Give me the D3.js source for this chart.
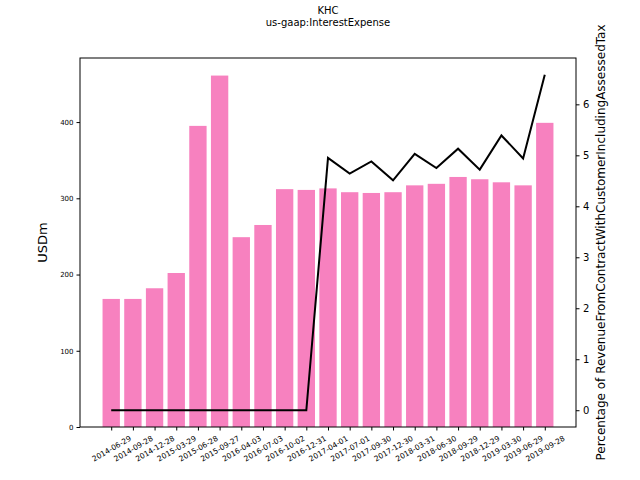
<!DOCTYPE html>
<html><head><meta charset="utf-8">
<script src="https://cdn.jsdelivr.net/npm/d3@7"></script>
<style>body{margin:0;background:#fff}svg{font-family:"DejaVu Sans",sans-serif}</style>
</head><body><svg id="c" width="640" height="480"></svg>
<script>
const categories = ["2014-06-29","2014-09-28","2014-12-28","2015-03-29","2015-06-28","2015-09-27","2016-04-03","2016-07-03","2016-10-02","2016-12-31","2017-04-01","2017-07-01","2017-09-30","2017-12-30","2018-03-31","2018-06-30","2018-09-29","2018-12-29","2019-03-30","2019-06-29","2019-09-28"];
const interestExpense = [168,168,182,202,395,461,249,265,312,311,313,308,307,308,317,319,328,325,321,317,399];
const pctOfRevenue = [0,0,0,0,0,0,0,0,0,0,4.95,4.64,4.88,4.51,5.03,4.75,5.13,4.72,5.39,4.94,6.58];
const leftTicks = [0,100,200,300,400];
const rightTicks = [0,1,2,3,4,5,6];

const svg = d3.select("#c");
const L=80,R=576,T=58,B=427;
const n = categories.length;
const span = (n-1)+0.8;
const x = d3.scaleLinear().domain([-0.4-0.05*span, n-1+0.4+0.05*span]).range([L,R]);
const yMax = d3.max(interestExpense)*1.05;
const yL = d3.scaleLinear().domain([0,yMax]).range([B,T]);
const pMax = d3.max(pctOfRevenue);
const yR = d3.scaleLinear().domain([-0.05*pMax, pMax*1.05]).range([B,T]);

// title
svg.append("text").attr("x",(L+R)/2).attr("y",14).attr("text-anchor","middle").attr("font-size",10).text("KHC");
svg.append("text").attr("x",(L+R)/2).attr("y",26).attr("text-anchor","middle").attr("font-size",10).text("us-gaap:InterestExpense");

// bars
svg.append("g").selectAll("rect").data(interestExpense).join("rect")
  .attr("x",(d,i)=>x(i-0.4)).attr("width",x(0.8)-x(0))
  .attr("y",d=>yL(d)).attr("height",d=>B-yL(d)).attr("fill","#f781bf");

// line
svg.append("path").datum(pctOfRevenue)
  .attr("d",d3.line().x((d,i)=>x(i)).y(d=>yR(d)))
  .attr("fill","none").attr("stroke","#000").attr("stroke-width",2);

// frame
svg.append("rect").attr("x",L).attr("y",T).attr("width",R-L).attr("height",B-T).attr("fill","none").attr("stroke","#000").attr("stroke-width",1);

// left axis
const gl = svg.append("g").attr("transform",`translate(${L},0)`)
  .call(d3.axisLeft(yL).tickValues(leftTicks).tickSize(3.5).tickPadding(3));
gl.select(".domain").remove();
gl.selectAll("text").attr("font-size",7).attr("font-family","DejaVu Sans");

// right axis
const gr = svg.append("g").attr("transform",`translate(${R},0)`)
  .call(d3.axisRight(yR).tickValues(rightTicks).tickSize(3.5).tickPadding(3.5));
gr.select(".domain").remove();
gr.selectAll("text").attr("font-size",10).attr("font-family","DejaVu Sans");

// x axis
const gx = svg.append("g").attr("transform",`translate(0,${B})`)
  .call(d3.axisBottom(x).tickValues(d3.range(n)).tickFormat(i=>categories[i]).tickSize(3.5).tickPadding(2));
gx.select(".domain").remove();
const fs = 7.5, ang = 30*Math.PI/180;
gx.selectAll("text").each(function(){
  const t = d3.select(this);
  t.attr("font-size",fs).attr("font-family","DejaVu Sans").attr("text-anchor","middle")
   .attr("dominant-baseline","central").attr("dy",null);
  const w = this.getComputedTextLength();
  const h = fs*1.15;
  const bh = w*Math.sin(ang)+h*Math.cos(ang);
  const cy = 3.5+3.5+bh/2;
  t.attr("y",cy).attr("x",0).attr("transform",`rotate(-30,0,${cy})`);
});

// axis labels
svg.append("text").attr("transform",`translate(47,${(T+B)/2}) rotate(-90)`).attr("text-anchor","middle").attr("font-size",13).text("USDm");
svg.append("text").attr("transform",`translate(605,${(T+B)/2}) rotate(-90)`).attr("text-anchor","middle").attr("font-size",12).text("Percentage of RevenueFromContractWithCustomerIncludingAssessedTax");
</script></body></html>
